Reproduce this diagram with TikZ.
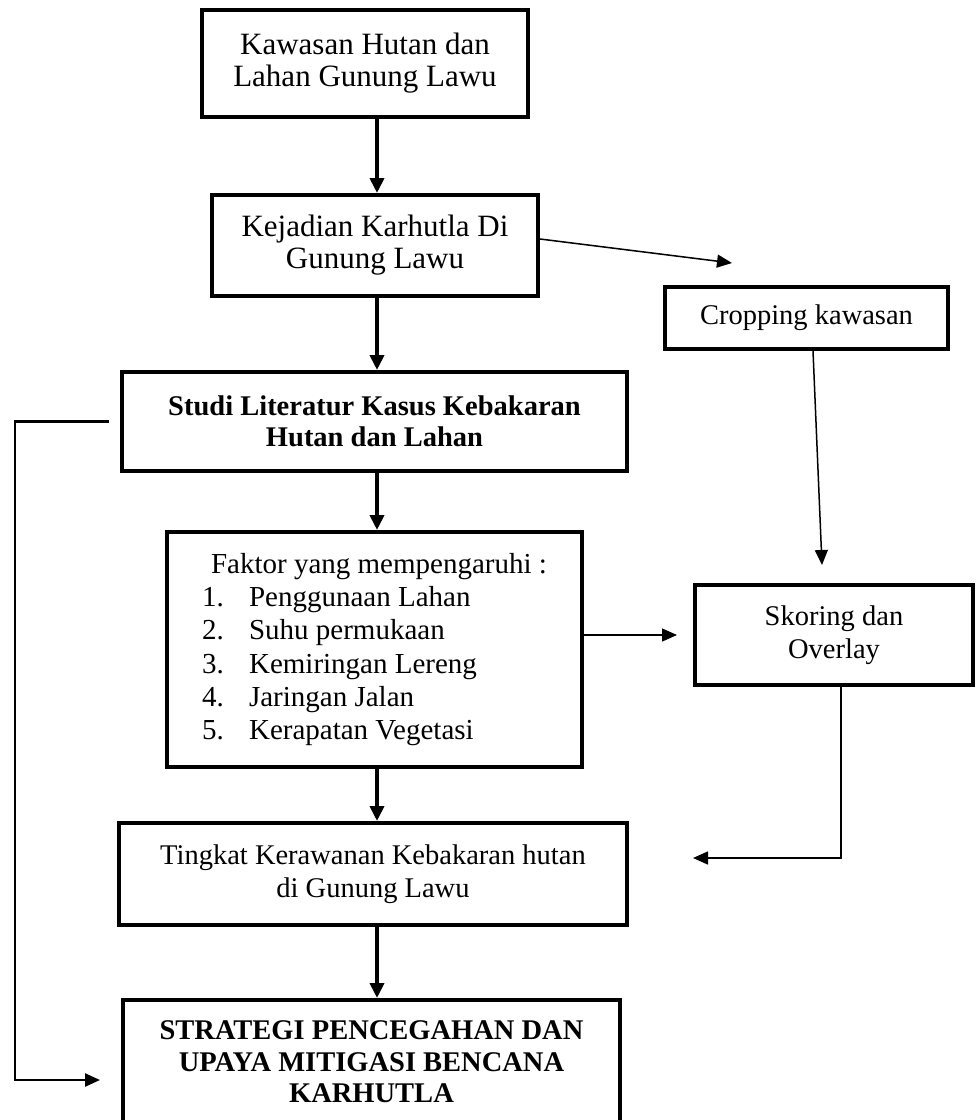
\documentclass[tikz,border=0pt]{standalone}
\usepackage{fontspec}
\setmainfont{Liberation Serif}
\usetikzlibrary{arrows.meta,calc}
\begin{document}
\begin{tikzpicture}[x=1pt,y=-1pt,
  box/.style={draw, line width=4pt, align=center, inner sep=0pt, font=\fontsize{28.5}{32.5}\selectfont},
  bigtext/.style={font=\fontsize{31}{32}\selectfont},
  boldtext/.style={font=\fontsize{28.5}{31.5}\selectfont\bfseries},
  thickarrow/.style={line width=4pt, -{Triangle[length=15pt,width=14pt]}},
  thinarrow/.style={line width=1.5pt, -{Triangle[length=15pt,width=13pt]}},
  backarrow/.style={line width=2.5pt, -{Triangle[length=15pt,width=13pt]}},
]
\useasboundingbox (0,0) rectangle (976,1120);
\clip (0,0) rectangle (976,1120);

\node[box, bigtext, minimum width=326pt, minimum height=107pt] (b1) at (365,63.5) {Kawasan Hutan dan\\Lahan Gunung Lawu};
\node[box, bigtext, minimum width=326pt, minimum height=101pt] (b2) at (375,245.5) {Kejadian Karhutla Di\\Gunung Lawu};
\node[box, line width=3.5pt, minimum width=283pt, minimum height=62pt] (crop) at (806.5,318) {Cropping kawasan};
\node[box, boldtext, minimum width=505pt, minimum height=99pt] (studi) at (374.5,421.5) {Studi Literatur Kasus Kebakaran\\Hutan dan Lahan};
\node[box, align=left, font=\fontsize{29}{33.3}\selectfont, minimum width=415pt, minimum height=235pt] (faktor) at (374.5,649.5)
  {\hspace*{9pt}Faktor yang mempengaruhi :\\
   \makebox[47pt][l]{1.}Penggunaan Lahan\\
   \makebox[47pt][l]{2.}Suhu permukaan\\
   \makebox[47pt][l]{3.}Kemiringan Lereng\\
   \makebox[47pt][l]{4.}Jaringan Jalan\\
   \makebox[47pt][l]{5.}Kerapatan Vegetasi};
\node[box, minimum width=278pt, minimum height=100pt] (skor) at (834,635) {Skoring dan\\Overlay};
\node[box, minimum width=508pt, minimum height=102pt] (tingkat) at (373,874) {Tingkat Kerawanan Kebakaran hutan\\di Gunung Lawu};
\node[box, boldtext, minimum width=497pt, minimum height=124pt] (strat) at (371.5,1062) {STRATEGI PENCEGAHAN DAN\\UPAYA MITIGASI BENCANA\\KARHUTLA};

\coordinate (ax) at (377,0);
\draw[thickarrow] (b1.south -| ax) -- (b2.north -| ax);
\draw[thickarrow] (b2.south -| ax) -- (studi.north -| ax);
\draw[thickarrow] (studi.south -| ax) -- (faktor.north -| ax);
\draw[thickarrow] (faktor.south -| ax) -- (tingkat.north -| ax);
\draw[thickarrow] (tingkat.south -| ax) -- (strat.north -| ax);

\coordinate (e1) at (732,263);
\draw[thinarrow] ([yshift=6.5pt]b2.east) -- (e1);

\coordinate (c2) at (813,0);
\coordinate (e2) at (822,565);
\draw[thinarrow] (crop.south -| c2) -- (e2);

\coordinate (e3) at (677,635);
\draw[thinarrow] (faktor.east |- e3) -- (e3);

\coordinate (c4) at (841,0);
\coordinate (e4) at (693,858);
\draw[thinarrow] (skor.south -| c4) |- (e4);

\coordinate (c5) at (15,0);
\coordinate (e5) at (100,1080);
\draw[backarrow] ([xshift=-11pt]studi.west) -| (c5 |- e5) -- (e5);
\end{tikzpicture}
\end{document}
